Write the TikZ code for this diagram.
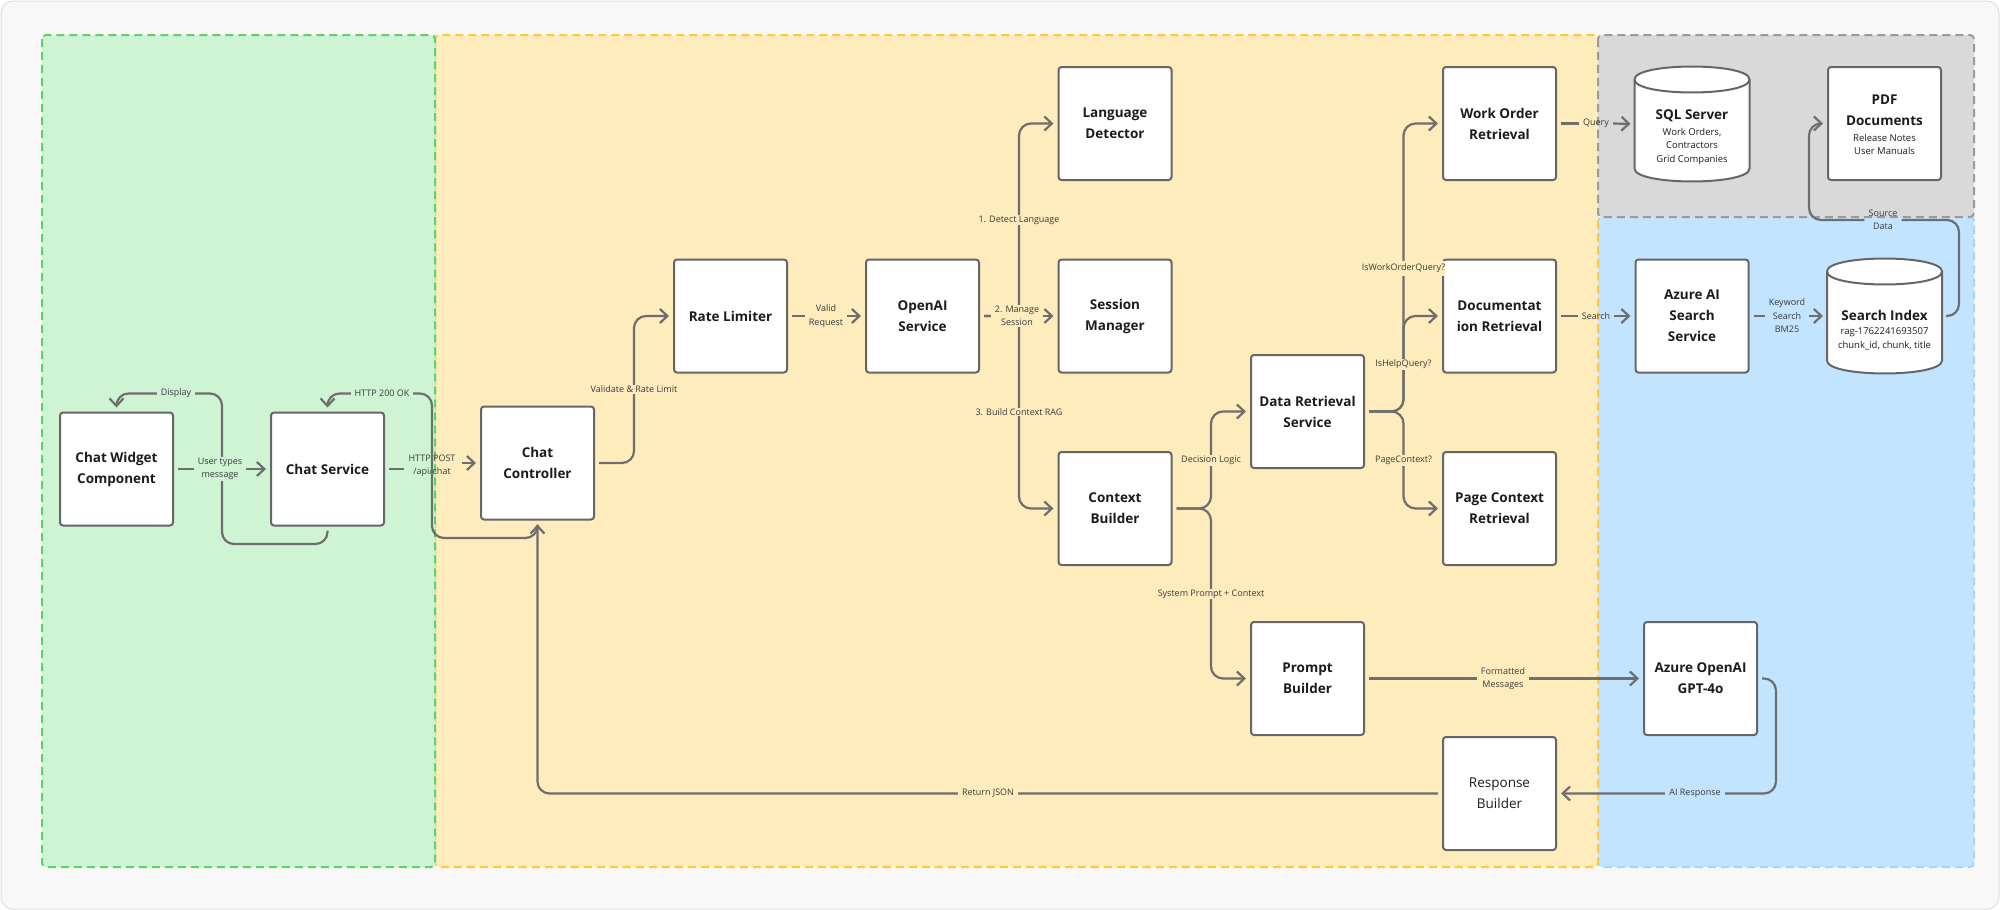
\documentclass[tikz,border=0pt]{standalone}
\usepackage{fontspec}
\setmainfont{Open Sans}
\usetikzlibrary{arrows.meta,calc}
\definecolor{pagebg}{HTML}{F8F8F8}
\definecolor{pageln}{HTML}{E0E0E0}
\definecolor{greenF}{HTML}{CEF4D4}
\definecolor{greenB}{HTML}{5BD46B}
\definecolor{yellowF}{HTML}{FFECBD}
\definecolor{yellowB}{HTML}{FFC83D}
\definecolor{grayF}{HTML}{D9D9D9}
\definecolor{grayB}{HTML}{9B9B9B}
\definecolor{blueF}{HTML}{C2E4FF}
\definecolor{blueB}{HTML}{A6D6FF}
\definecolor{boxc}{HTML}{666666}
\definecolor{linec}{HTML}{6E6E6E}
\definecolor{txt}{HTML}{1C1C1C}
\definecolor{lbltxt}{HTML}{3A3A3A}
\begin{document}
\begin{tikzpicture}[x=1pt,y=-1pt,
  region/.style={line width=2pt, dash pattern=on 8pt off 5pt, rounded corners=4pt},
  box/.style={draw=boxc, fill=white, line width=2pt, rounded corners=3pt,
    minimum width=113pt, minimum height=113pt, inner sep=0pt, align=center,
    text=txt, font=\fontsize{13.5}{21}\selectfont\bfseries},
  boxreg/.style={box, font=\fontsize{13.5}{21}\selectfont},
  cylnode/.style={minimum width=115pt, minimum height=115pt, inner sep=0pt, outer sep=0pt},
  cyltext/.style={align=center, text=txt, inner sep=0pt, font=\fontsize{9.5}{13.7}\selectfont},
  cylshape/.style={draw=boxc, fill=white, line width=2pt},
  conn/.style={draw=linec, line width=2.2pt, rounded corners=12pt, shorten <=4pt},
  arr/.style={conn, -{Straight Barb[length=7.5pt,width=14pt]}, shorten >=4pt},
  lbl/.style={align=center, text=lbltxt, inner xsep=4pt, inner ysep=1pt,
    font=\fontsize{9}{13.5}\selectfont},
  lblG/.style={lbl, fill=greenF},
  lblY/.style={lbl, fill=yellowF},
  lblB/.style={lbl, fill=blueF},
]
\useasboundingbox (0,0) rectangle (2000,910);
% page
\draw[fill=pagebg, draw=pageln, line width=1pt, rounded corners=12pt] (1,1) rectangle (1999,909);
% regions
\path[region, fill=blueF, draw=blueB] (1598,217) rectangle (1974,867);
\path[region, fill=yellowF, draw=yellowB] (435,35) rectangle (1598,867);
\path[region, fill=grayF, draw=grayB] (1598,35) rectangle (1974,217);
\path[region, fill=greenF, draw=greenB] (42,35) rectangle (435,867);

% nodes
\node[box] (widget) at (116.5,469) {Chat Widget\\Component};
\node[box] (chatsvc) at (327.5,469) {Chat Service};
\node[box] (ctrl) at (537.5,463) {Chat\\Controller};
\node[box] (rate) at (730.5,316) {Rate Limiter};
\node[box] (openai) at (922.5,316) {OpenAI\\Service};
\node[box] (lang) at (1115,123.5) {Language\\Detector};
\node[box] (session) at (1115,316) {Session\\Manager};
\node[box] (ctx) at (1115,508.5) {Context\\Builder};
\node[box] (dataret) at (1307.5,411.5) {Data Retrieval\\Service};
\node[box] (wo) at (1499.5,123.5) {Work Order\\Retrieval};
\node[box] (doc) at (1499.5,316) {Documentat\\ion Retrieval};
\node[box] (page) at (1499.5,508.5) {Page Context\\Retrieval};
\node[box] (prompt) at (1307.5,678.5) {Prompt\\Builder};
\node[boxreg] (resp) at (1499.5,793.5) {Response\\Builder};
\node[box] (gpt) at (1700.5,678.5) {Azure OpenAI\\GPT-4o};
\node[box] (azs) at (1692,316) {Azure AI\\Search\\Service};
\node[box] (pdf) at (1884.5,123.5) {};
\node[cyltext] (pdft) at (1884.5,125) {{\fontsize{13.5}{21}\selectfont\bfseries PDF}\\[7.3pt]{\fontsize{13.5}{21}\selectfont\bfseries Documents}\\[1.5pt]Release Notes\\User Manuals};

% cylinders
\node[cylnode] (sql) at (1692,124) {};
\node[cylnode] (sidx) at (1884.5,316) {};
\foreach \c in {sql,sidx}{
  \draw[cylshape] ($(\c.north west)+(0,13)$) -- ($(\c.south west)+(0,-13)$)
     .. controls ($(\c.south west)+(0,4.3)$) and ($(\c.south east)+(0,4.3)$) .. ($(\c.south east)+(0,-13)$)
     -- ($(\c.north east)+(0,13)$)
     .. controls ($(\c.north east)+(0,-4.3)$) and ($(\c.north west)+(0,-4.3)$) .. cycle;
  \draw[cylshape, fill=none] ($(\c.north west)+(0,13)$)
     .. controls ($(\c.north west)+(0,30.3)$) and ($(\c.north east)+(0,30.3)$) .. ($(\c.north east)+(0,13)$);
}
\node[cyltext] (sqlt) at (1692,137.5) {{\fontsize{13.5}{21}\selectfont\bfseries SQL Server}\\[1.5pt]Work Orders,\\Contractors\\Grid Companies};
\node[cyltext] (sidxt) at (1884.5,330) {{\fontsize{13.5}{21}\selectfont\bfseries Search Index}\\[1pt]rag-1762241693507\\chunk\_id, chunk, title};

% waypoints
\coordinate (dA) at (222,544);
\coordinate (dB) at (222,393.5);
\coordinate (okA) at (432,538);
\coordinate (okB) at (432,393.5);
\coordinate (vA) at (634,463);
\coordinate (vB) at (634,316);
\coordinate (oA) at (1019,316);
\coordinate (oT) at (1019,123.5);
\coordinate (oB) at (1019,508.5);
\coordinate (cA) at (1211,508.5);
\coordinate (cT) at (1211,411.5);
\coordinate (cB) at (1211,678.5);
\coordinate (rA) at (1403.5,411.5);
\coordinate (rT) at (1403.5,123.5);
\coordinate (rM) at (1403.5,316);
\coordinate (rB) at (1403.5,508.5);
\coordinate (sA) at (1959,316);
\coordinate (sB) at (1959,220);
\coordinate (sC) at (1809,220);
\coordinate (sD) at (1809,123.5);
\coordinate (gA) at (1776,678.5);
\coordinate (gB) at (1776,793.5);
\coordinate (jA) at (537.5,793.5);

% labels without fill (placed first for anchors)
\node[lbl] (postl) at (432,466) {HTTP POST\\/api/chat};
\node[lbl] (queryl) at (1596,123.5) {Query};
\node[lbl] (searchl) at (1596,316) {Search};
\node[lbl] (srcl) at (1883,220) {Source\\Data};

% connectors
\draw[arr] (widget.east) -- (chatsvc.west);
\draw[arr] (chatsvc.south) |- (dA) -- (dB) -| (widget.north);
\draw[arr] (ctrl.south) |- (okA) -- (okB) -| (chatsvc.north);
\draw[conn] (chatsvc.east) -- (postl.west |- chatsvc.east);
\draw[arr, shorten <=2pt] (postl.east |- ctrl.west) -- (ctrl.west);
\draw[arr] (ctrl.east) -- (vA) -- (vB) -- (rate.west);
\draw[arr] (rate.east) -- (openai.west);
\draw[arr] (openai.east) -- (session.west);
\draw[arr] (openai.east) -- (oA) -- (oT) -- (lang.west);
\draw[arr] (openai.east) -- (oA) -- (oB) -- (ctx.west);
\draw[arr] (ctx.east) -- (cA) -- (cT) -- (dataret.west);
\draw[arr] (ctx.east) -- (cA) -- (cB) -- (prompt.west);
\draw[arr] (dataret.east) -- (rA) -- (rT) -- (wo.west);
\draw[arr] (dataret.east) -- (rA) -- (rM) -- (doc.west);
\draw[arr] (dataret.east) -- (rA) -- (rB) -- (page.west);
\draw[conn] (wo.east) -- (queryl.west);
\draw[arr, shorten <=0pt] (queryl.east) -- (sql.west);
\draw[conn] (doc.east) -- (searchl.west);
\draw[arr, shorten <=0pt] (searchl.east) -- (azs.west);
\draw[arr] (azs.east) -- (sidx.west);
\draw[conn] (sidx.east) -- (sA) -- (sB) -- (srcl.east |- sB);
\draw[arr, shorten <=0pt] (srcl.west |- sB) -- (sC) -- (sD) -- (pdf.west);
\draw[arr] (prompt.east) -- (gpt.west);
\draw[arr] (gpt.east) -- (gA) -- (gB) -- (resp.east);
\draw[arr] (resp.west) -- (jA) -- (ctrl.south);

% filled labels
\node[lblG] (usertl) at (220,469) {User types\\message};
\node[lblG] (displ) at (176,393.5) {Display};
\node[lblG] (okl) at (382,393.5) {HTTP 200 OK};
\node[lblY] (vall) at (634,389.5) {Validate \& Rate Limit};
\node[lblY] (validl) at (826,316) {Valid\\Request};
\node[lblY] (detl) at (1019,220) {1. Detect Language};
\node[lblY] (manl) at (1017,316) {2. Manage\\Session};
\node[lblY] (buildl) at (1019,412) {3. Build Context RAG};
\node[lblY] (decl) at (1211,460.7) {Decision Logic};
\node[lblY] (sysl) at (1211,594) {System Prompt + Context};
\node[lblY, inner xsep=0pt, inner ysep=3pt] (iswol) at (1403.5,268) {IsWorkOrderQuery?};
\node[lblY] (ishl) at (1403.5,364) {IsHelpQuery?};
\node[lblY] (pcl) at (1403.5,460.7) {PageContext?};
\node[lblB] (kwl) at (1787,316) {Keyword\\Search\\BM25};
\node[lblY] (fml) at (1503,678.5) {Formatted\\Messages};
\node[lblB] (airl) at (1695,793.5) {AI Response};
\node[lblY] (jsonl) at (988,793.5) {Return JSON};
\end{tikzpicture}
\end{document}
